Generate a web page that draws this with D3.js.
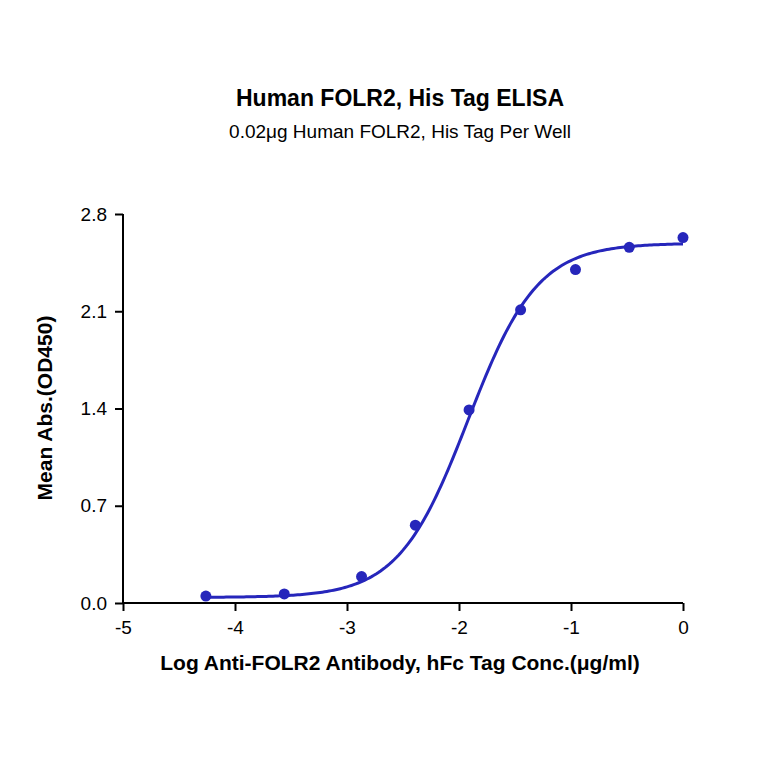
<!DOCTYPE html>
<html><head><meta charset="utf-8">
<script src="https://cdn.jsdelivr.net/npm/d3@7"></script>
<style>body{margin:0;background:#fff}</style>
</head><body>
<script>
var logConc = [-4.26, -3.56, -2.87, -2.39, -1.91, -1.45, -0.96, -0.48, 0];
var meanAbs = [0.05, 0.065, 0.19, 0.56, 1.39, 2.11, 2.40, 2.56, 2.63];
var xTicks = [-5, -4, -3, -2, -1, 0];
var yTicks = [0.0, 0.7, 1.4, 2.1, 2.8];
// 4PL fit parameters
var fit = {bottom: 0.04, top: 2.59, logEC50: -1.92, hill: 1.4};

var svg = d3.select("body").append("svg").attr("width", 764).attr("height", 764);
var x = d3.scaleLinear().domain([-5, 0]).range([123, 683]);
var y = d3.scaleLinear().domain([0, 2.8]).range([603, 214]);
var blue = "#2626bb";
var font = "Liberation Sans, Arial, sans-serif";

svg.append("text").attr("x", 400).attr("y", 106).attr("text-anchor", "middle")
  .attr("font-family", font).attr("font-weight", "bold").attr("font-size", 23).text("Human FOLR2, His Tag ELISA");
svg.append("text").attr("x", 400).attr("y", 138).attr("text-anchor", "middle")
  .attr("font-family", font).attr("font-size", 19).text("0.02μg Human FOLR2, His Tag Per Well");

var xa = svg.append("g").attr("transform", "translate(0,603)")
  .call(d3.axisBottom(x).tickValues(xTicks).tickSize(8).tickPadding(10).tickFormat(function(d) { return String(d); }));
var ya = svg.append("g").attr("transform", "translate(123,0)")
  .call(d3.axisLeft(y).tickValues(yTicks).tickSize(8).tickPadding(8).tickFormat(d3.format(".1f")));
[xa, ya].forEach(function(a) {
  a.selectAll("path,line").attr("stroke", "#000").attr("stroke-width", 2);
  a.selectAll("text").attr("font-family", font).attr("font-size", 19).attr("fill", "#000");
});
xa.select(".domain").attr("d", "M123,0H683");
ya.select(".domain").attr("d", "M0,603V214");

svg.append("text").attr("x", 400).attr("y", 670).attr("text-anchor", "middle")
  .attr("font-family", font).attr("font-weight", "bold").attr("font-size", 21)
  .text("Log Anti-FOLR2 Antibody, hFc Tag Conc.(μg/ml)");
svg.append("text").attr("transform", "translate(52,408) rotate(-90)").attr("text-anchor", "middle")
  .attr("font-family", font).attr("font-weight", "bold").attr("font-size", 21).text("Mean Abs.(OD450)");

var curve = d3.range(-4.26, 0.001, 0.02).map(function(v) {
  return [v, fit.bottom + (fit.top - fit.bottom) / (1 + Math.pow(10, (fit.logEC50 - v) * fit.hill))];
});
svg.append("path").datum(curve).attr("fill", "none").attr("stroke", blue).attr("stroke-width", 3)
  .attr("d", d3.line().x(function(d) { return x(d[0]); }).y(function(d) { return y(d[1]); }));

svg.selectAll("circle.pt").data(logConc).join("circle").attr("class", "pt")
  .attr("cx", function(d) { return x(d); })
  .attr("cy", function(d, i) { return y(meanAbs[i]); })
  .attr("r", 5.5).attr("fill", blue);
</script>
</body></html>
